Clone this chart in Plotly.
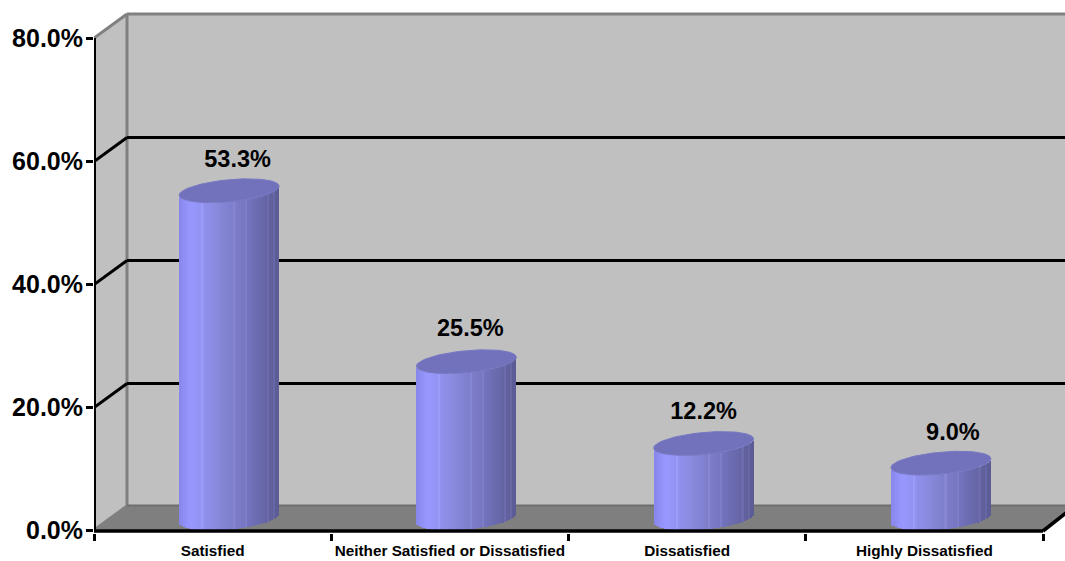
import numpy as np
import plotly.graph_objects as go

categories = ["Satisfied", "Neither Satisfied or Dissatisfied", "Dissatisfied", "Highly Dissatisfied"]
values = [53.3, 25.5, 12.2, 9.0]
value_labels = ["53.3%", "25.5%", "12.2%", "9.0%"]
label_shift_px = [8.5, 4, 0, 12]
label_rise_px = [42, 44, 42, 41]
y_ticks = [0, 20, 40, 60, 80]

W, H = 1065, 561
LEFT, CAT_W = 94.0, 237.25
ZERO_PX, PX_PER = 530.5, 6.15
PLOT_BOTTOM = 533
DX, DY = 33, 24
FONT = "Liberation Sans, Arial, sans-serif"


def X(p):
    return (np.asarray(p, float) - LEFT) / CAT_W - 0.5


def Y(p):
    return (ZERO_PX - np.asarray(p, float)) / PX_PER


def poly(points):
    return "M" + " L".join(f"{X(a):.5f},{Y(b):.5f}" for a, b in points) + " Z"


def shape_poly(points, fill, line=None, width=0, layer="below"):
    return dict(type="path", xref="x", yref="y", path=poly(points), fillcolor=fill,
                line=dict(color=line or fill, width=width), layer=layer)


def seg(x0, y0, x1, y1, color, width, layer="below"):
    return dict(type="line", xref="x", yref="y", x0=float(X(x0)), x1=float(X(x1)),
                y0=float(Y(y0)), y1=float(Y(y1)), line=dict(color=color, width=width), layer=layer)


WALL = "#C0C0C0"
EDGE = "#808080"
shapes = [
    shape_poly([(94, 38), (127, 14), (127, 506), (94, 530)], WALL),
    shape_poly([(127, 14), (1066, 14), (1066, 506), (127, 506)], WALL),
    shape_poly([(94, 530), (127, 506), (1066, 506), (1066, 513), (1043, 530)], "#7F7F7F"),
    seg(94, 38, 127, 14, EDGE, 3),
    seg(127, 14, 1066, 14, EDGE, 3),
    seg(127, 14, 127, 506, EDGE, 3),
    seg(127, 505.5, 1066, 505.5, "#6E6E6E", 2),
    seg(94, 530, 127, 506, EDGE, 3),
]
for t in y_ticks[1:-1]:
    py = ZERO_PX - t * PX_PER
    shapes.append(seg(94, py, 127, py - DY, "black", 3))
    shapes.append(seg(127, py - DY, 1066, py - DY, "black", 3))
shapes += [
    seg(94.5, 38, 94.5, 531, "black", 3, "above"),
    seg(93, 531, 1043, 531, "black", 3.5, "above"),
    seg(1043, 531, 1066, 513, "black", 3.5, "above"),
]

STOPS_U = [0.0, 0.12, 0.4, 0.7, 1.0]
STOPS_R = [134, 152, 136, 114, 90]
STOPS_B = [234, 255, 218, 188, 148]
A, B, S = 50.0, 11.0, 4.5
CY_OFF = 12.0
facet_lines_px = [23, 44, 55, 67, 78, 84, 89, 95]
u = np.arange(-A + 1, A + 1, 2.0)
nu = u / A
fade = (nu + 1) / 2
colors = []
for k, f in enumerate(fade):
    r = np.interp(f, STOPS_U, STOPS_R)
    b = np.interp(f, STOPS_U, STOPS_B)
    if any(abs((u[k] + A) - p) < 1 for p in facet_lines_px):
        r, b = r + 9, min(b + 9, 255)
    colors.append(f"rgb({r:.0f},{r:.0f},{b:.0f})")

fig = go.Figure()
for i, val in enumerate(values):
    cx_px = LEFT + CAT_W * (i + 0.5) + DX / 2
    front = (CY_OFF - B * np.sqrt(1 - nu ** 2) + S * nu) / PX_PER
    fig.add_bar(x=X(cx_px + u), y=[val] * len(u), base=front, width=2 / CAT_W,
                marker=dict(color=colors, line=dict(width=0)), hoverinfo="skip", showlegend=False)
for i, val in enumerate(values):
    cx_px = LEFT + CAT_W * (i + 0.5) + DX / 2
    t = np.linspace(0, 2 * np.pi, 90)
    ex = cx_px + A * np.cos(t)
    ey = val + (CY_OFF + B * np.sin(t) + S * np.cos(t)) / PX_PER
    fig.add_scatter(x=X(ex), y=ey, mode="lines", fill="toself", fillcolor="#7272BC",
                    line=dict(color="#7878C4", width=1), hoverinfo="skip", showlegend=False)

label_x = [i + (DX / 2 + s) / CAT_W for i, s in enumerate(label_shift_px)]
label_y = [v + r / PX_PER for v, r in zip(values, label_rise_px)]
fig.add_scatter(x=label_x, y=label_y, mode="text", text=value_labels, textposition="middle center",
                textfont=dict(family=FONT, size=23.5, color="black", weight="bold"),
                hoverinfo="skip", showlegend=False)

fig.update_layout(
    width=W, height=H, margin=dict(l=94, r=0, t=0, b=H - PLOT_BOTTOM),
    paper_bgcolor="white", plot_bgcolor="white", barmode="overlay", bargap=0,
    shapes=shapes, showlegend=False,
    xaxis=dict(range=[float(X(94)), float(X(1065))], tickmode="array", tickvals=[0, 1, 2, 3],
               ticktext=categories, ticks="", showgrid=False, zeroline=False, showline=False,
               tickfont=dict(family=FONT, size=15.3, color="black", weight="bold"), ticklabelstandoff=7,
               tickangle=0,
               minor=dict(tickmode="array", tickvals=[-0.5, 0.5, 1.5, 2.5, 3.5], ticks="outside",
                          ticklen=7, tickwidth=3, tickcolor="black", showgrid=False)),
    yaxis=dict(range=[float(Y(PLOT_BOTTOM)), float(Y(0))], tickmode="array", tickvals=y_ticks,
               ticktext=[f"{t:.1f}%" for t in y_ticks], ticks="outside", ticklen=7, tickwidth=3,
               tickcolor="black", showgrid=False, zeroline=False, showline=False, ticklabelstandoff=-2,
               tickfont=dict(family=FONT, size=25, color="black", weight="bold")),
)
fig.write_html("out.html", post_script="document.body.style.margin='0';", config={"displayModeBar": False})
